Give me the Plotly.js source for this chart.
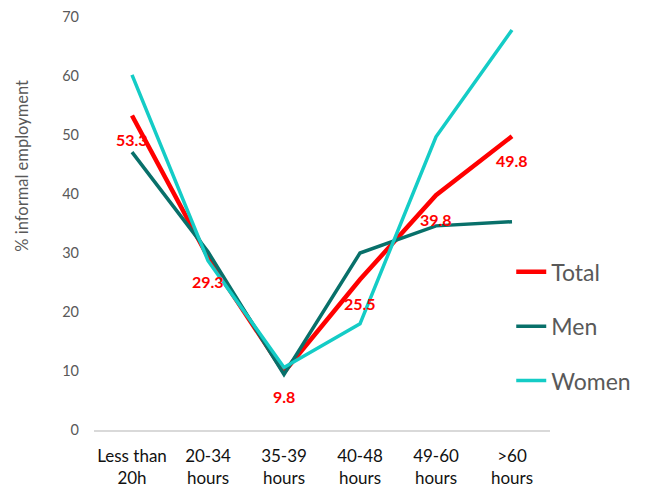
<!DOCTYPE html>
<html>
<head>
<meta charset="utf-8">
<script src="https://cdn.plot.ly/plotly-3.0.1.min.js"></script>
<style>html,body{margin:0;padding:0;background:#fff;}#chart{width:653px;height:489px;}</style>
</head>
<body>
<div id="chart"></div>
<script>
const categories = ["Less than<br>20h", "20-34<br>hours", "35-39<br>hours", "40-48<br>hours", "49-60<br>hours", ">60<br>hours"];
const totalValues = [53.3, 29.3, 9.8, 25.5, 39.8, 49.8];
const menValues = [47.1, 30.2, 9.4, 30.0, 34.6, 35.3];
const womenValues = [60.2, 28.7, 10.6, 18.0, 49.7, 67.8];
const yTicks = [0, 10, 20, 30, 40, 50, 60, 70];
const yTitle = "% informal employment";

const font = "Lato, 'Open Sans', sans-serif";

const traces = [
  {name: "Total", x: categories, y: totalValues, mode: "lines", legendgroup: "a",
   line: {color: "#FF0000", width: 4.5}},
  {name: "Men", x: categories, y: menValues, mode: "lines", legendgroup: "b",
   line: {color: "#08706A", width: 3.5}},
  {name: "Women", x: categories, y: womenValues, mode: "lines", legendgroup: "c",
   line: {color: "#14CCC6", width: 3.5}}
];

const annotations = categories.map((c, i) => ({
  x: c, y: totalValues[i], xref: "x", yref: "y",
  text: "<b>" + totalValues[i].toFixed(1) + "</b>",
  showarrow: false, yshift: -24,
  font: {family: font, size: 16, color: "#FF0000"}
}));
annotations.push({
  text: yTitle, textangle: -90, showarrow: false,
  xref: "paper", yref: "paper", x: -0.158, y: 0.64,
  xanchor: "center", yanchor: "middle",
  font: {family: font, size: 16.5, color: "#595959"}
});

const layout = {
  width: 653, height: 489,
  margin: {l: 94, r: 103, t: 17, b: 59, autoexpand: false},
  paper_bgcolor: "#fff", plot_bgcolor: "#fff",
  showlegend: true,
  legend: {x: 0.915, xanchor: "left", y: 0.435, yanchor: "top",
    font: {family: font, size: 23, color: "#595959"},
    traceorder: "grouped", tracegroupgap: 21.5, itemwidth: 30,
    bgcolor: "rgba(0,0,0,0)"},
  xaxis: {type: "category", showgrid: false, zeroline: false,
    showline: true, linecolor: "#D9D9D9", linewidth: 1.5,
    ticks: "", ticklabelstandoff: 10,
    tickfont: {family: font, size: 17, color: "#111"},
    range: [-0.5, 5.5]},
  yaxis: {range: [0, 70], tickvals: yTicks, showgrid: false, zeroline: false,
    showline: false, ticks: "", ticklabelstandoff: 14,
    tickfont: {family: font, size: 14.5, color: "#595959"}},
  annotations: annotations
};

Plotly.newPlot("chart", traces, layout, {displayModeBar: false, staticPlot: true});
</script>
</body>
</html>
